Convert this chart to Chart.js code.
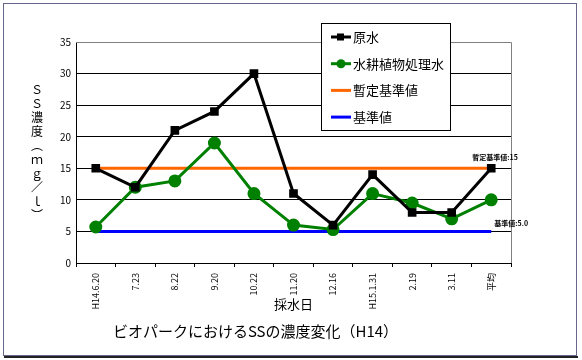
<!DOCTYPE html>
<html>
<head>
<meta charset="utf-8">
<script src="https://cdn.jsdelivr.net/npm/chart.js@4.4.0/dist/chart.umd.min.js"></script>
<style>
  body { margin: 0; background: #fff; }
  #wrap { width: 582px; height: 360px; }
</style>
</head>
<body>
<div id="wrap"><canvas id="ssChart" width="582" height="360"></canvas></div>
<script>
/*
* SS濃度の推移グラフ (ビオパーク H14)
*/

const labels = ['H14.6.20', '7.23', '8.22', '9.20', '10.22', '11.20', '12.16', 'H15.1.31', '2.19', '3.11', '平均'];
const genSui = [15, 12, 21, 24, 30, 11, 6, 14, 8, 8, 15];
const suikou = [5.7, 12, 13, 19, 11, 6, 5.3, 11, 9.5, 7, 10];
const zantei = [15, 15, 15, 15, 15, 15, 15, 15, 15, 15, 15];
const kijun = [5, 5, 5, 5, 5, 5, 5, 5, 5, 5, 5];
const seriesNames = ['原水', '水耕植物処理水', '暫定基準値', '基準値'];
const refNotes = ['暫定基準値:15', '基準値:5.0'];
const yTitleChars = ['Ｓ', 'Ｓ', '濃', '度', '︵', 'ｍ', 'ｇ', '／', 'ｌ', '︶'];

const FONT = '"Noto Sans CJK JP", "DejaVu Sans", sans-serif';

const COLORS = {
  black: '#000000',
  green: '#008000',
  orange: '#FF6600',
  blue: '#0000FF',
  frame: '#66668a'
};

// 枠、縦書きの軸タイトル、凡例、基準値の注記
const decorPlugin = {
  id: 'decor',
  afterDraw(chart) {
    const ctx = chart.ctx;
    const area = chart.chartArea;
    const xs = chart.scales.x;
    const ys = chart.scales.y;
    ctx.save();

    // 外枠
    ctx.strokeStyle = COLORS.frame;
    ctx.lineWidth = 1;
    ctx.strokeRect(3.5, 3.5, 573, 352);
    ctx.strokeStyle = '#222';
    ctx.lineWidth = 2;
    ctx.beginPath();
    ctx.moveTo(4, 357);
    ctx.lineTo(578, 357);
    ctx.stroke();

    // プロットエリアの上と右の線
    ctx.strokeStyle = '#808080';
    ctx.lineWidth = 1;
    ctx.beginPath();
    ctx.moveTo(area.left, area.top + 0.5);
    ctx.lineTo(area.right + 0.5, area.top + 0.5);
    ctx.lineTo(area.right + 0.5, area.bottom);
    ctx.stroke();

    // 縦書きタイトル
    ctx.fillStyle = '#000';
    ctx.font = '12px ' + FONT;
    ctx.textAlign = 'center';
    ctx.textBaseline = 'middle';
    yTitleChars.forEach((c, i) => {
      ctx.fillText(c, 37, 89 + i * 14);
    });

    // 注記
    ctx.font = 'bold 7px ' + FONT;
    ctx.textAlign = 'left';
    const lastX = xs.getPixelForValue(labels.length - 1);
    ctx.fillText(refNotes[0], lastX - 19, ys.getPixelForValue(zantei[zantei.length - 1]) - 11);
    ctx.fillText(refNotes[1], lastX + 3, ys.getPixelForValue(kijun[kijun.length - 1]) - 8);

    // 凡例
    const lx = 321, ly = 23, lw = 129, lh = 107;
    ctx.fillStyle = '#fff';
    ctx.fillRect(lx, ly, lw, lh);
    ctx.strokeStyle = '#000';
    ctx.lineWidth = 1;
    ctx.strokeRect(lx + 0.5, ly + 0.5, lw, lh);
    chart.data.datasets.forEach((ds, i) => {
      const cy = 37 + i * 26.7;
      ctx.strokeStyle = ds.borderColor;
      ctx.lineWidth = 3;
      ctx.beginPath();
      ctx.moveTo(331, cy);
      ctx.lineTo(351, cy);
      ctx.stroke();
      ctx.fillStyle = ds.borderColor;
      if (ds.pointStyle === 'rect') {
        ctx.fillRect(337, cy - 3.5, 7, 7);
      } else if (ds.pointRadius > 0) {
        ctx.beginPath();
        ctx.arc(341, cy, 4.5, 0, Math.PI * 2);
        ctx.fill();
      }
      ctx.fillStyle = '#000';
      ctx.font = '13px ' + FONT;
      ctx.textAlign = 'left';
      ctx.fillText(ds.label, 353, cy);
    });

    ctx.restore();
  }
};

const data = {
  labels: labels,
  datasets: [
    {
      label: seriesNames[0],
      data: genSui,
      borderColor: COLORS.black,
      backgroundColor: COLORS.black,
      borderWidth: 3,
      pointStyle: 'rect',
      pointRadius: 4,
      tension: 0
    },
    {
      label: seriesNames[1],
      data: suikou,
      borderColor: COLORS.green,
      backgroundColor: COLORS.green,
      borderWidth: 3,
      pointStyle: 'circle',
      pointRadius: 5,
      tension: 0
    },
    {
      label: seriesNames[2],
      data: zantei,
      borderColor: COLORS.orange,
      borderWidth: 3,
      pointRadius: 0
    },
    {
      label: seriesNames[3],
      data: kijun,
      borderColor: COLORS.blue,
      borderWidth: 3,
      pointRadius: 0
    }
  ]
};

const config = {
  type: 'line',
  data: data,
  options: {
    responsive: false,
    animation: false,
    layout: { padding: { left: 0, top: 42, right: 71, bottom: 12 } },
    plugins: {
      legend: { display: false },
      tooltip: { enabled: false },
      title: {
        display: true,
        position: 'bottom',
        text: 'ビオパークにおけるSSの濃度変化（H14）',
        color: '#000',
        font: { family: FONT, size: 15, weight: 'normal' },
        padding: { top: 8, bottom: 8 }
      }
    },
    scales: {
      x: {
        offset: true,
        grid: {
          offset: true,
          drawOnChartArea: false,
          drawTicks: true,
          tickLength: 4,
          color: '#000'
        },
        border: { color: '#000', width: 1 },
        ticks: {
          minRotation: 90,
          maxRotation: 90,
          padding: 6,
          color: '#000',
          font: { family: FONT, size: 9 }
        },
        title: {
          display: true,
          text: '採水日',
          color: '#000',
          font: { family: FONT, size: 13 },
          padding: { top: 0, bottom: 2 }
        },
        afterFit(scale) { scale.height = 51; }
      },
      y: {
        min: 0,
        max: 35,
        ticks: {
          stepSize: 5,
          padding: 5,
          color: '#000',
          font: { family: FONT, size: 10 }
        },
        grid: {
          drawTicks: false,
          color: (c) => (c.tick && c.tick.value === 35 ? '#808080' : '#000'),
          lineWidth: 1
        },
        border: { color: '#000', width: 1 },
        afterFit(scale) { scale.width = 76; }
      }
    }
  },
  plugins: [decorPlugin]
};

const ssChart = new Chart(document.getElementById('ssChart'), config);
</script>
</body>
</html>
